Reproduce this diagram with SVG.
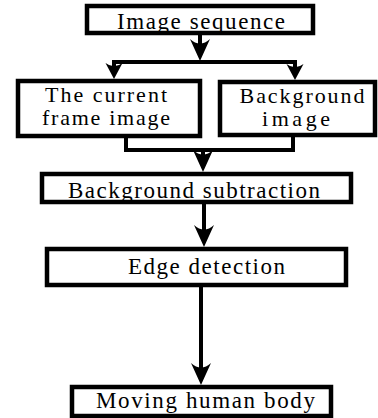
<svg xmlns="http://www.w3.org/2000/svg" width="378" height="418" viewBox="0 0 378 418">
  <style>
    .box { fill: #fff; stroke: #000; stroke-width: 4.5; }
    .lbl { font-family: "Liberation Serif", "Times New Roman", serif; font-size: 23px; fill: #000; text-anchor: middle; }
    .lbl.sm { font-size: 22px; }
    .wire { fill: none; stroke: #000; stroke-width: 4; }
  </style>
  <defs>
    <!-- large notched arrowhead, tip 6px beyond the line end -->
    <marker id="headL" markerUnits="userSpaceOnUse" markerWidth="22" markerHeight="20" viewBox="0 -10 22 20" refX="16" refY="0" orient="auto" overflow="visible">
      <path d="M22,0 L0,-10 Q9,0 0,10 Z" fill="#000"/>
    </marker>
    <!-- smaller arrowhead used on the split branches -->
    <marker id="headS" markerUnits="userSpaceOnUse" markerWidth="16" markerHeight="17" viewBox="0 -8.5 16 17" refX="11" refY="0" orient="auto" overflow="visible">
      <path d="M16,0 L0,-8.5 Q6.5,0 0,8.5 Z" fill="#000"/>
    </marker>
  </defs>

  <g id="connectors">
    <line class="wire" x1="200" y1="33" x2="200" y2="55" marker-end="url(#headL)"/>
    <path class="wire" d="M112,62 H297"/>
    <line class="wire" x1="114" y1="62" x2="114" y2="74" marker-end="url(#headS)"/>
    <line class="wire" x1="295" y1="62" x2="295" y2="75" marker-end="url(#headS)"/>
    <path class="wire" d="M126,136 V150 H293 V135"/>
    <line class="wire" x1="203" y1="150" x2="203" y2="166" marker-end="url(#headL)"/>
    <line class="wire" x1="204" y1="202" x2="204" y2="241" marker-end="url(#headL)"/>
    <line class="wire" x1="201" y1="285" x2="201" y2="379" marker-end="url(#headL)"/>
  </g>

  <g id="image-sequence">
    <rect class="box" x="87" y="6" width="226" height="27"/>
    <text class="lbl" x="201" y="29" textLength="168" lengthAdjust="spacing">Image sequence</text>
  </g>

  <g id="current-frame">
    <rect class="box" x="18" y="81" width="182" height="55"/>
    <text class="lbl sm" x="106" y="102" textLength="122" lengthAdjust="spacing">The current</text>
    <text class="lbl sm" x="106" y="125" textLength="128" lengthAdjust="spacing">frame image</text>
  </g>

  <g id="background-image">
    <rect class="box" x="220" y="82" width="155" height="53"/>
    <text class="lbl sm" x="302" y="103" textLength="125" lengthAdjust="spacing">Background</text>
    <text class="lbl sm" x="296" y="126" textLength="68" lengthAdjust="spacing">image</text>
  </g>

  <g id="background-subtraction">
    <rect class="box" x="42" y="174" width="309" height="28"/>
    <text class="lbl" x="194" y="198" textLength="252" lengthAdjust="spacing">Background subtraction</text>
  </g>

  <g id="edge-detection">
    <rect class="box" x="47" y="249" width="299" height="36"/>
    <text class="lbl" x="206.5" y="274" textLength="157" lengthAdjust="spacing">Edge detection</text>
  </g>

  <g id="moving-human-body">
    <rect class="box" x="72" y="387" width="259" height="29"/>
    <text class="lbl" x="205.5" y="408" textLength="219" lengthAdjust="spacing">Moving human body</text>
  </g>
</svg>
